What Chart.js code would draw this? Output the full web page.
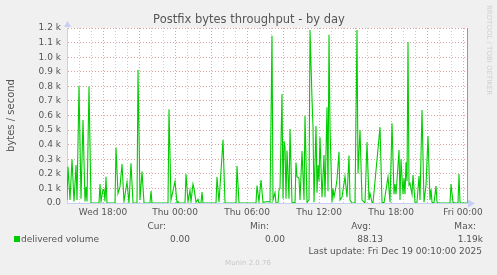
<!DOCTYPE html>
<html>
<head>
<meta charset="utf-8">
<script src="https://cdn.jsdelivr.net/npm/chart.js@4/dist/chart.umd.min.js"></script>
<style>
  html, body { margin: 0; padding: 0; background: #f0f0f0; }
  #wrap { width: 497px; height: 275px; }
</style>
</head>
<body>
<div id="wrap"><canvas id="chart" width="497" height="275"></canvas></div>
<script>
// 5 minute slots counted from Wed 15:00, and the value read at that slot (bytes/s)
const slots = [0, 1, 3, 5, 7, 9, 10, 12, 14, 16, 18, 19, 20, 22, 24, 32, 33, 34, 36, 37, 38, 39, 40,
  48, 49, 51, 53, 55, 57, 60, 62, 64, 66, 70, 71, 73, 75, 77, 83, 84, 85, 101, 102, 104, 108, 110,
  111, 112, 118, 119, 121, 123, 124, 126, 127, 129, 131, 132, 134, 135, 136, 149, 150, 152, 156, 158,
  169, 170, 172, 189, 190, 192, 194, 196, 201, 203, 205, 206, 208, 209, 211, 212, 213, 215, 216, 217,
  218, 219, 220, 222, 223, 225, 228, 229, 230, 232, 233, 235, 237, 238, 240, 242, 243, 245, 246, 247,
  249, 250, 251, 252, 253, 255, 256, 257, 258, 260, 261, 262, 263, 265, 266, 267, 269, 270, 272, 273,
  275, 277, 278, 280, 282, 283, 285, 288, 290, 291, 293, 295, 298, 300, 302, 303, 305, 306, 313, 315,
  317, 321, 323, 325, 327, 328, 329, 330, 332, 333, 334, 336, 337, 338, 339, 340, 341, 342, 343, 345,
  346, 348, 350, 352, 353, 355, 357, 359, 361, 363, 364, 365, 367, 369, 370, 371, 383, 384, 386, 388,
  391, 392, 393, 394, 400];
const volume = [20, 249, 20, 300, 10, 260, 20, 802, 30, 569, 10, 112, 10, 798, 0, 0, 130, 10, 94, 90, 10, 180, 0,
  0, 380, 66, 112, 267, 10, 144, 0, 272, 0, 0, 912, 20, 215, 0, 0, 82, 0, 0, 642, 20, 148, 0,
  10, 0, 0, 199, 10, 87, 10, 130, 100, 5, 25, 0, 0, 75, 0, 0, 178, 5, 432, 0,
  0, 254, 0, 0, 119, 10, 158, 5, 10, 5, 1147, 20, 71, 0, 0, 89, 100, 747, 30, 425,
  386, 30, 359, 30, 507, 5, 0, 277, 180, 169, 20, 357, 20, 599, 5, 20, 1186, 713, 523, 5,
  528, 70, 260, 150, 450, 40, 185, 329, 40, 656, 80, 1154, 523, 5, 100, 40, 112, 162, 352, 20,
  40, 135, 181, 40, 325, 20, 0, 0, 1186, 203, 500, 20, 0, 416, 20, 66, 5, 0, 519, 5,
  0, 180, 5, 546, 60, 130, 60, 158, 363, 20, 300, 60, 169, 60, 279, 150, 1104, 123, 135, 60,
  192, 5, 5, 185, 20, 638, 5, 121, 459, 20, 94, 5, 0, 117, 5, 0, 0, 130, 5, 0,
  0, 199, 5, 0, 0];

const xTickLabels = ['Wed 18:00', 'Thu 00:00', 'Thu 06:00', 'Thu 12:00', 'Thu 18:00', 'Fri 00:00'];
const legendHeads = ['Cur:', 'Min:', 'Avg:', 'Max:'];
const legendValues = ['0.00', '0.00', '88.13', '1.19k'];

const FONT = 'DejaVu Sans';
const TEXT = '#555555';

const points = slots.map((s, i) => ({ x: s * 5, y: volume[i] }));

// Munin style extras: title, white plot area, axis arrows, legend and footer
const muninPlugin = {
  id: 'munin',
  beforeDraw(chart) {
    const { ctx, chartArea: a } = chart;
    ctx.save();
    ctx.fillStyle = '#ffffff';
    ctx.fillRect(a.left, a.top, a.right - a.left, a.bottom - a.top);
    ctx.restore();
  },
  afterDraw(chart) {
    const { ctx, chartArea: a } = chart;
    ctx.save();
    // title, centred on the whole picture
    ctx.font = '11.5px ' + FONT;
    ctx.fillStyle = TEXT;
    ctx.textAlign = 'center';
    ctx.textBaseline = 'middle';
    ctx.fillText('Postfix bytes throughput - by day', 249, 20);

    // right edge
    ctx.strokeStyle = '#999999';
    ctx.lineWidth = 1;
    ctx.beginPath();
    ctx.moveTo(a.right + 0.5, a.top);
    ctx.lineTo(a.right + 0.5, a.bottom);
    ctx.stroke();
    // axis arrows
    ctx.fillStyle = '#c8cff5';
    ctx.beginPath();
    ctx.moveTo(a.left - 3, a.top - 1);
    ctx.lineTo(a.left + 4, a.top - 1);
    ctx.lineTo(a.left + 0.5, a.top - 7);
    ctx.fill();
    ctx.beginPath();
    ctx.moveTo(a.right + 1, a.bottom - 3.5);
    ctx.lineTo(a.right + 1, a.bottom + 4.5);
    ctx.lineTo(a.right + 8, a.bottom + 0.5);
    ctx.fill();

    // legend
    ctx.font = '9px ' + FONT;
    ctx.fillStyle = '#00cc00';
    ctx.fillRect(14, 236, 6, 6);
    ctx.fillStyle = TEXT;
    ctx.textAlign = 'left';
    ctx.fillText('delivered volume', 21, 239.5);
    const headRight = [166, 269, 371, 476];
    const valRight = [190, 285, 383, 483];
    ctx.textAlign = 'right';
    legendHeads.forEach((h, i) => ctx.fillText(h, headRight[i], 227));
    legendValues.forEach((v, i) => ctx.fillText(v, valRight[i], 239.5));
    ctx.fillText('Last update: Fri Dec 19 00:10:00 2025', 482, 251.5);

    ctx.textAlign = 'center';
    ctx.fillStyle = '#c8c8c8';
    ctx.font = '7px ' + FONT;
    ctx.fillText('Munin 2.0.76', 248, 263);

    // rrdtool credit on the right
    ctx.translate(489, 5);
    ctx.rotate(Math.PI / 2);
    ctx.textAlign = 'left';
    ctx.fillStyle = '#d0d0d0';
    ctx.fillText('RRDTOOL / TOBI OETIKER', 0, 0);
    ctx.restore();
  }
};

new Chart(document.getElementById('chart'), {
  type: 'line',
  data: {
    datasets: [{
      label: 'delivered volume',
      data: points,
      borderColor: '#00cc00',
      borderWidth: 1.1,
      pointRadius: 0,
      tension: 0,
      fill: false
    }]
  },
  options: {
    responsive: false,
    animation: false,
    layout: { padding: { left: 0, right: 30, top: 28, bottom: 0 } },
    plugins: {
      legend: { display: false },
      tooltip: { enabled: false },
      title: { display: false }
    },
    scales: {
      x: {
        type: 'linear',
        min: 0,
        max: 2000,
        afterFit: (scale) => { scale.height = 72; },
        ticks: {
          stepSize: 60,
          includeBounds: false,
          autoSkip: false,
          maxRotation: 0,
          padding: 4,
          color: TEXT,
          font: { family: FONT, size: 9 },
          callback: (v) => (v % 360 === 180 ? xTickLabels[(v - 180) / 360] : '')
        },
        grid: {
          drawTicks: false,
          color: (ctx) => (ctx.tick && ctx.tick.value % 180 === 0 ? 'rgba(215,130,130,0.75)' : 'rgba(190,190,190,0.8)')
        },
        border: { display: true, color: '#c8cff5', dash: [1, 2] }
      },
      y: {
        min: 0,
        max: 1200,
        afterFit: (scale) => { scale.width = 67; },
        ticks: {
          stepSize: 100,
          padding: 6,
          color: TEXT,
          font: { family: FONT, size: 9 },
          callback: (v) => (v === 0 ? '0.0' : (v / 1000).toFixed(1) + ' k')
        },
        grid: {
          drawTicks: false,
          color: 'rgba(215,130,130,0.75)'
        },
        border: { display: true, color: '#c8cff5', dash: [1, 2] },
        title: {
          display: true,
          text: 'bytes / second',
          color: TEXT,
          font: { family: FONT, size: 10 },
          padding: { top: 5, bottom: 0 }
        }
      }
    }
  },
  plugins: [muninPlugin]
});
</script>
</body>
</html>
